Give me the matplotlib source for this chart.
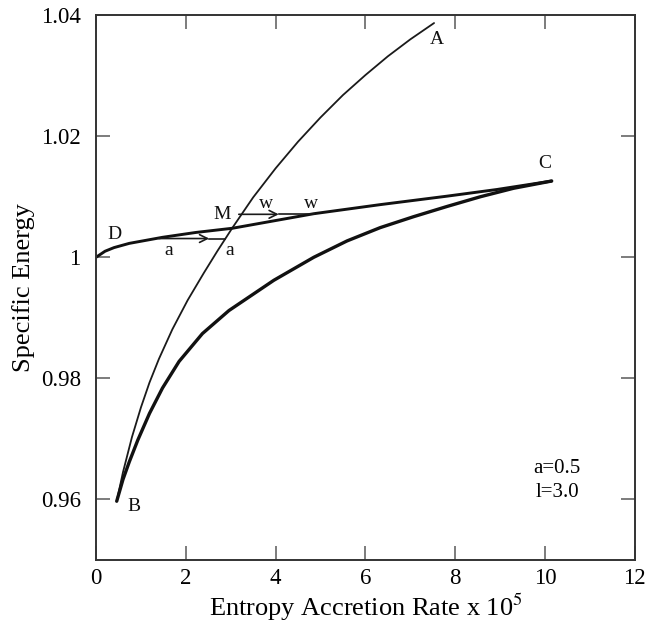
import matplotlib
matplotlib.use("Agg")
from matplotlib import pyplot as plt

# curve B -> A (thin)
ba_x = [0.46, 0.60, 0.80, 1.00, 1.19, 1.40, 1.70, 2.04, 2.40, 2.70, 3.04, 3.50,
        4.00, 4.50, 5.00, 5.50, 6.00, 6.50, 7.00, 7.53]
ba_y = [0.9597, 0.9645, 0.9703, 0.9752, 0.9793, 0.9832, 0.9881, 0.9929, 0.9974,
        1.0010, 1.0049, 1.0099, 1.0147, 1.0191, 1.0231, 1.0268, 1.0301, 1.0332,
        1.0360, 1.0387]

# curve B -> C (thick, lower branch)
bc_x = [0.46, 0.60, 0.74, 0.93, 1.19, 1.48, 1.85, 2.37, 2.96, 3.96, 4.85, 5.59,
        6.33, 7.07, 7.82, 8.56, 9.30, 10.15]
bc_y = [0.9597, 0.9633, 0.9662, 0.9698, 0.9742, 0.9784, 0.9828, 0.9874, 0.9912,
        0.9962, 1.0000, 1.0027, 1.0049, 1.0067, 1.0084, 1.0100, 1.0114, 1.0126]

# curve D -> C (upper branch)
dc_x = [0.0, 0.2, 0.4, 0.74, 1.48, 2.22, 3.04, 4.85, 6.33, 7.82, 8.93, 10.15]
dc_y = [1.0, 1.0010, 1.0016, 1.0023, 1.0033, 1.0041, 1.0048, 1.0072, 1.0087,
        1.0101, 1.0112, 1.0126]

# shock transitions: start, arrow tip, end, height
shock_a = [1.40, 2.52, 2.88, 1.0031]
shock_w = [3.18, 4.07, 4.85, 1.0071]

xticks = [0, 2, 4, 6, 8, 10, 12]
yticks = [0.96, 0.98, 1.0, 1.02, 1.04]
ytick_labels = ["0.96", "0.98", "1", "1.02", "1.04"]

plt.rcParams["font.family"] = ["Liberation Serif", "DejaVu Serif"]
plt.rcParams["mathtext.fontset"] = "stix"

fig = plt.figure(figsize=(6.49, 6.32), dpi=100)
ax = fig.add_axes([0.148, 0.114, 0.830, 0.862])

ax.plot(ba_x, ba_y, color="#1a1a1a", lw=1.3, solid_capstyle="round",
        solid_joinstyle="round")
ax.plot(bc_x, bc_y, color="#111111", lw=2.4, solid_capstyle="round",
        solid_joinstyle="round")
ax.plot(dc_x, dc_y, color="#111111", lw=2.1, solid_capstyle="round",
        solid_joinstyle="round")

for x0, xtip, x1, yy in (shock_a, shock_w):
    ax.plot([xtip, x1], [yy, yy], color="#1a1a1a", lw=1.2)
    ax.annotate("", xy=(xtip, yy), xytext=(x0, yy),
                arrowprops=dict(arrowstyle="->", color="#1a1a1a", lw=1.2,
                                mutation_scale=14, shrinkA=0, shrinkB=0))

lab = dict(fontsize=14, ha="center", va="center", color="#111111")
ax.text(0.40, 1.0038, "D", **lab)
ax.text(1.62, 1.0012, "a", **lab)
ax.text(2.98, 1.0012, "a", **lab)
ax.text(2.82, 1.0071, "M", **lab)
ax.text(3.78, 1.0089, "w", **lab)
ax.text(4.80, 1.0089, "w", **lab)
ax.text(7.60, 1.0359, "A", **lab)
ax.text(0.84, 0.9589, "B", **lab)
ax.text(10.0, 1.0155, "C", **lab)
ax.text(10.27, 0.9651, "a=0.5", fontsize=15, ha="center", va="center")
ax.text(10.27, 0.9612, "l=3.0", fontsize=15, ha="center", va="center")

ax.set_xlim(0, 12)
ax.set_ylim(0.95, 1.04)
ax.set_xticks(xticks)
ax.set_yticks(yticks)
ax.set_yticklabels(ytick_labels)
ax.tick_params(direction="in", length=10, width=1.2, color="#666666",
               labelsize=16.5, top=True, right=True, pad=6)
ax.tick_params(axis="y", pad=11)
for s in ax.spines.values():
    s.set_linewidth(1.4)
    s.set_color("#333333")

ax.set_xlabel("Entropy Accretion Rate x 10$^{5}$", fontsize=19, labelpad=2)
ax.set_ylabel("Specific Energy", fontsize=19, labelpad=4)

fig.savefig("out.png", dpi=100)
